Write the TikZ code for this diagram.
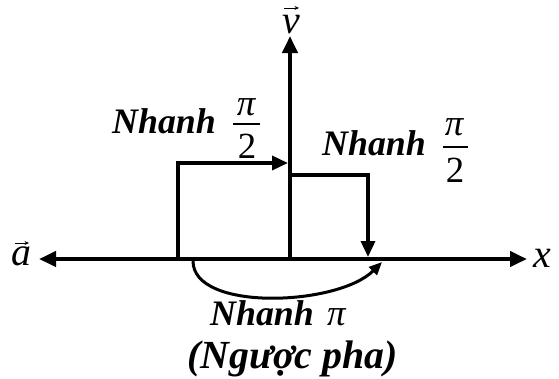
\documentclass[tikz,border=0pt]{standalone}
\usepackage{fontspec}
\setmainfont{Liberation Serif}
\usetikzlibrary{arrows.meta}
\tikzset{
  axis/.style={line width=4bp,-{Triangle[length=17bp,width=15bp]}},
  axisboth/.style={line width=4bp,{Triangle[length=17bp,width=15bp]}-{Triangle[length=17bp,width=15bp]}},
  guide/.style={line width=3.5bp},
  guidearrow/.style={line width=3.5bp,-{Triangle[length=16bp,width=14bp]}},
  arcarrow/.style={line width=3bp,-{Triangle[length=13bp,width=11bp]}},
  vecacc/.style={line width=1bp,-{Stealth[length=4.5bp,width=4bp]}},
  lbl/.style={inner sep=0pt,anchor=base west,font=\fontsize{36}{36}\selectfont\bfseries\itshape},
  lblb/.style={inner sep=0pt,anchor=base west,font=\fontsize{40}{40}\selectfont\bfseries\itshape},
  num/.style={inner sep=0pt,anchor=base,font=\fontsize{37}{37}\selectfont},
  vlab/.style={inner sep=0pt,anchor=base,font=\fontsize{40}{40}\selectfont\itshape},
  fbar/.style={line width=1.3bp}
}
\begin{document}
\begin{tikzpicture}[x=1bp,y=1bp]
\useasboundingbox (0,0) rectangle (559,-378);
% axes
\coordinate (aL) at (39,-259);
\coordinate (aR) at (527,-259);
\coordinate (O) at (290,-259);
\coordinate (vT) at (290,-36);
\draw[axisboth] (aL) -- (aR);
\draw[axis] (O) -- (vT);
% labels of axes
\node[vlab] (la) at (21,-265) {a};
\coordinate (la1) at (15,-243);
\coordinate (la2) at (29,-243);
\draw[vecacc] (la1) -- (la2);
\node[vlab] (lx) at (542,-267) {x};
\node[vlab] (lv) at (291,-33) {v};
\coordinate (lv1) at (284,-8);
\coordinate (lv2) at (299,-8);
\draw[vecacc] (lv1) -- (lv2);
% left guide
\coordinate (L0) at (178,-259);
\coordinate (L1) at (178,-163);
\coordinate (L2) at (288,-163);
\draw[guide] (L0) -- (L1);
\draw[guidearrow] ([xshift=-1.75bp]L1) -- (L2);
% right guide
\coordinate (R0) at (290,-175);
\coordinate (R1) at (368,-175);
\coordinate (R2) at (368,-257);
\draw[guide] (R0) -- ([xshift=1.75bp]R1);
\draw[guidearrow] (R1) -- (R2);
% arc
\coordinate (C0) at (193,-261);
\coordinate (C1) at (382,-262);
\draw[arcarrow] (C0) .. controls (193,-312) and (338,-306) .. (C1);
% left label
\node[lbl] (tl) at (112,-133) {Nhanh};
\node[num] (tlp) at (246,-115) {\itshape π};
\node[num] (tl2) at (247,-158) {2};
\coordinate (bl1) at (233,-124);
\coordinate (bl2) at (260,-124);
\draw[fbar] (bl1) -- (bl2);
% right label
\node[lbl] (tr) at (322,-155) {Nhanh};
\node[num] (trp) at (454,-135) {\itshape π};
\node[num] (tr2) at (455,-182) {2};
\coordinate (br1) at (443,-147);
\coordinate (br2) at (468,-147);
\draw[fbar] (br1) -- (br2);
% bottom label
\node[lbl] (tb) at (210,-325) {Nhanh};
\node[num,anchor=base west] (tbp) at (327,-325) {\itshape π};
\node[lblb] (tc) at (187,-368) {(Ngược pha)};
\end{tikzpicture}
\end{document}
